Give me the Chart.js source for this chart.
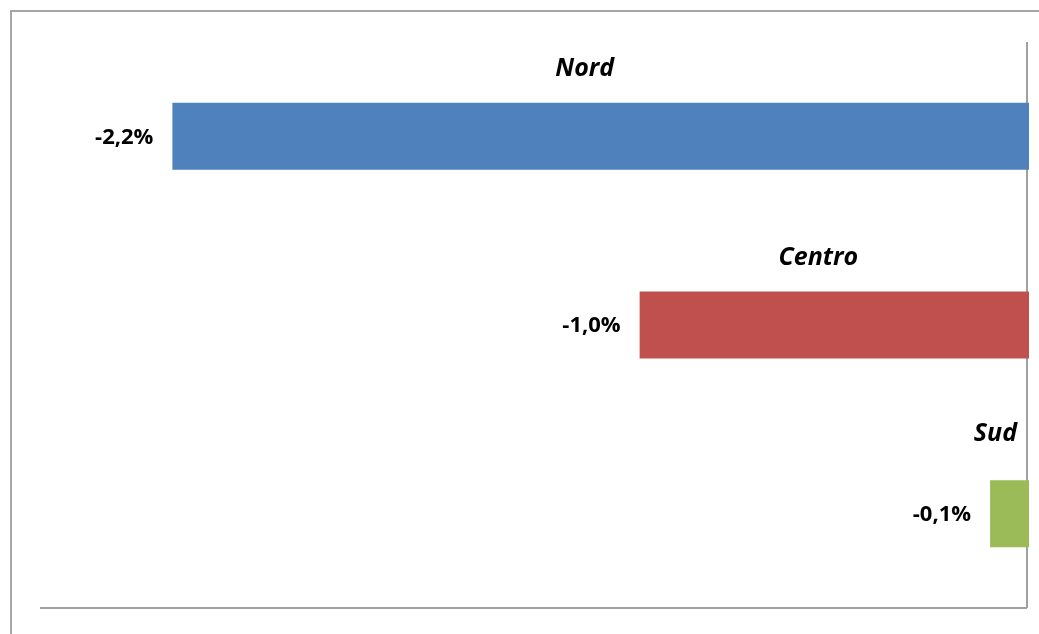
<!DOCTYPE html>
<html>
<head>
<meta charset="utf-8">
<script src="https://cdn.jsdelivr.net/npm/chart.js@4/dist/chart.umd.min.js"></script>
<style>
  html, body { margin: 0; padding: 0; background: #fff; }
  body { width: 1039px; height: 634px; overflow: hidden; position: relative; }
  #frame {
    position: absolute; left: 10px; top: 10px; width: 1100px; height: 700px;
    border-left: 2px solid #a6a6a6; border-top: 2px solid #a6a6a6;
  }
  #wrap { position: absolute; left: 0; top: 0; width: 1039px; height: 634px; }
</style>
</head>
<body>
<div id="frame"></div>
<div id="wrap"><canvas id="chart" width="1039" height="634"></canvas></div>
<script>
const regions = ['Nord', 'Centro', 'Sud'];
const variazione = [-2.2, -1.0, -0.1];
const etichette = ['-2,2%', '-1,0%', '-0,1%'];
const colori = ['#4F81BD', '#C0504D', '#9BBB59'];

const ctx = document.getElementById('chart').getContext('2d');

// linee degli assi + etichette (valore a sinistra, regione sopra)
const labelsPlugin = {
    id: 'labelsPlugin',
    beforeDatasetsDraw(chart) {
        const a = chart.chartArea;
        const c = chart.ctx;
        c.save();
        c.strokeStyle = '#a0a0a0';
        c.lineWidth = 2;
        c.beginPath();
        c.moveTo(a.right - 2, a.top);
        c.lineTo(a.right - 2, a.bottom);
        c.moveTo(a.left, a.bottom);
        c.lineTo(a.right - 2, a.bottom);
        c.stroke();
        c.restore();
    },
    afterDatasetsDraw(chart) {
        const c = chart.ctx;
        const a = chart.chartArea;
        const meta = chart.getDatasetMeta(0);
        c.save();
        c.fillStyle = '#000';
        meta.data.forEach((bar, i) => {
            const left = Math.min(bar.x, bar.base);
            const right = Math.max(bar.x, bar.base);
            const top = bar.y - bar.height / 2;

            c.font = 'bold 22px "Open Sans"';
            c.textAlign = 'right';
            c.textBaseline = 'middle';
            c.fillText(etichette[i], left - 19, bar.y + 1);

            c.font = 'italic bold 25px "Open Sans"';
            c.textAlign = 'center';
            const w = c.measureText(regions[i]).width;
            let cx = (left + right) / 2 - 16;
            let cy = top - 34;
            if (w > right - left) {
                // barra troppo corta: etichetta spinta a sinistra e in alto
                cx = a.right - 12 - w / 2;
                cy -= 12;
            }
            c.fillText(regions[i], cx, cy);
        });
        c.restore();
    }
};

new Chart(ctx, {
    type: 'bar',
    data: {
        labels: regions,
        datasets: [{
            data: variazione,
            backgroundColor: colori,
            borderWidth: 0,
            categoryPercentage: 1,
            barPercentage: 0.355
        }]
    },
    options: {
        indexAxis: 'y',
        responsive: false,
        animation: false,
        layout: { padding: { left: 40, right: 10, top: 42, bottom: 26 } },
        plugins: {
            legend: { display: false },
            tooltip: { enabled: false }
        },
        scales: {
            x: { display: false, min: -2.54, max: 0 },
            y: { display: false }
        }
    },
    plugins: [labelsPlugin]
});
</script>
</body>
</html>
